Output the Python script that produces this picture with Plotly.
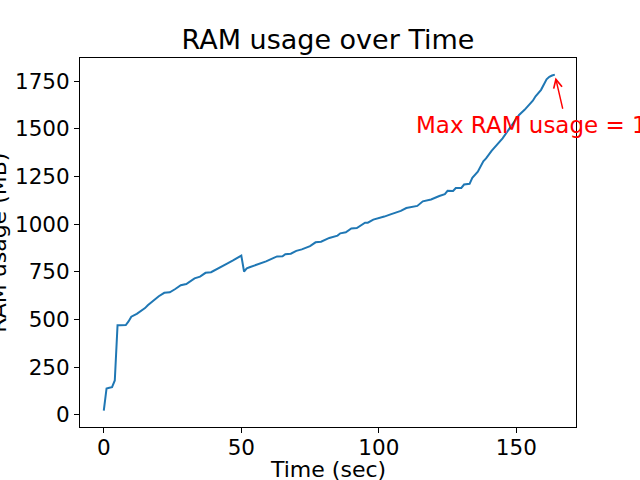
import plotly.graph_objects as go

time_sec = [0, 1, 2, 3, 4, 5, 6, 7, 8, 9, 10, 12, 14, 15, 16, 17, 18, 19, 20, 22,
            24, 26, 28, 30, 31, 33, 35, 37, 39, 41, 43, 45, 47, 49, 50, 51, 52, 53,
            55, 57, 59, 61, 63, 65, 66, 68, 70, 72, 75, 77, 79, 82, 85, 86, 88, 90,
            92, 95, 96, 98, 100, 102, 104, 106, 108, 110, 111, 114, 116, 119, 122,
            124, 125, 127, 128, 130, 131, 133, 134, 136, 138, 139, 141, 143, 145,
            148, 151, 153, 156, 157, 159, 161, 162, 163, 164]
ram_mb = [22, 138, 142, 145, 180, 470, 470, 470, 471, 490, 515, 530, 550, 560, 575,
          588, 598, 610, 622, 640, 643, 660, 680, 686, 695, 716, 725, 745, 748, 765,
          780, 795, 810, 825, 835, 752, 768, 774, 783, 792, 805, 818, 831, 832, 843,
          845, 860, 868, 885, 905, 908, 928, 940, 952, 958, 978, 980, 1008, 1008,
          1024, 1030, 1040, 1050, 1060, 1070, 1085, 1088, 1096, 1120, 1130, 1148,
          1158, 1175, 1174, 1190, 1190, 1208, 1212, 1243, 1275, 1330, 1345, 1385,
          1420, 1450, 1512, 1573, 1600, 1648, 1671, 1705, 1760, 1773, 1780, 1785]
x_ticks = [0, 50, 100, 150]
y_ticks = [0, 250, 500, 750, 1000, 1250, 1500, 1750]

max_ram = max(ram_mb)
max_t = time_sec[ram_mb.index(max_ram)]

FONT = "DejaVu Sans"

fig = go.Figure()
fig.add_trace(go.Scatter(x=time_sec, y=ram_mb, mode="lines",
                         line=dict(color="#1f77b4", width=2), showlegend=False))

axis_common = dict(showline=True, mirror=True, linecolor="black", linewidth=1,
                   ticks="outside", ticklen=5, tickwidth=1, tickcolor="black",
                   showgrid=False, zeroline=False, automargin=False,
                   tickfont=dict(family=FONT, size=21.5, color="black"))

fig.update_layout(
    width=640, height=480,
    margin=dict(l=80, r=64, t=58, b=53),
    paper_bgcolor="white", plot_bgcolor="white",
    title=dict(text="RAM usage over Time", x=0.5, xref="paper", xanchor="center",
               y=1 - 40 / 480, yanchor="middle",
               font=dict(family=FONT, size=27, color="black")),
    xaxis=dict(range=[-8.65, 171.7], tickvals=x_ticks, ticklabelstandoff=-4,
               **axis_common),
    yaxis=dict(range=[-64, 1872], tickvals=y_ticks, **axis_common),
)

fig.add_annotation(text="Time (sec)", xref="paper", yref="paper", x=0.5, y=-0.116,
                   xanchor="center", yanchor="middle", showarrow=False,
                   font=dict(family=FONT, size=22, color="black"))
fig.add_annotation(text="RAM usage (MB)", xref="paper", yref="paper", x=-0.165, y=0.5,
                   xanchor="center", yanchor="middle", textangle=-90, showarrow=False,
                   font=dict(family=FONT, size=22, color="black"))

# arrow
fig.add_annotation(x=max_t, y=max_ram, xref="x", yref="y", text="",
                   ax=max_t + 3, ay=max_ram - 187, axref="x", ayref="y",
                   showarrow=True, arrowhead=5, arrowsize=1.2, arrowwidth=1.4,
                   arrowcolor="red", standoff=3)
# label
fig.add_annotation(x=112.9, y=1522, xref="x", yref="y",
                   text=f"Max RAM usage = {max_ram} MB", showarrow=False,
                   xanchor="left", yanchor="middle",
                   font=dict(family=FONT, size=23, color="red"))

fig.write_html("out.html", config={"displayModeBar": False},
               post_script="document.body.style.margin='0px';")
